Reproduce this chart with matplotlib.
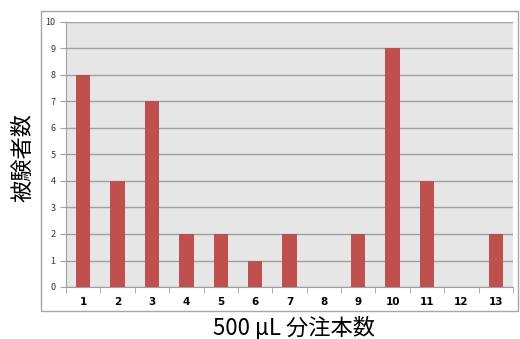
import matplotlib.pyplot as plt
from matplotlib.patches import Rectangle
import numpy as np

plt.rcParams['font.family'] = ['Noto Sans CJK JP', 'DejaVu Sans']

categories = ['1', '2', '3', '4', '5', '6', '7', '8', '9', '10', '11', '12', '13']
counts = [8, 4, 7, 2, 2, 1, 2, 0, 2, 9, 4, 0, 2]

W, H = 520, 339
fig = plt.figure(figsize=(W / 100, H / 100), dpi=100)

# outer chart frame
fig.patches.append(Rectangle((41 / W, 1 - 311 / H), 477 / W, 300 / H,
                             transform=fig.transFigure, fill=False,
                             edgecolor='#A6A6A6', linewidth=1.0))

ax = fig.add_axes([66 / W, 1 - 287 / H, 447 / W, 265 / H])
ax.set_facecolor('#E6E6E6')

x = np.arange(len(categories))
ax.bar(x, counts, width=0.42, color='#C0504D', zorder=3)

ax.set_xlim(-0.5, len(categories) - 0.5)
ax.set_ylim(0, 10)
ax.set_yticks(range(0, 11))
ax.yaxis.grid(True, color='#A0A0A0', linewidth=1.0, zorder=0)

ax.set_xticks(x)
ax.set_xticklabels(categories, fontweight='bold', fontsize=7.5, family='DejaVu Sans')
ax.set_xticks(np.arange(-0.5, len(categories)), minor=True)
ax.tick_params(axis='x', which='major', length=0, pad=7)
ax.tick_params(axis='x', which='minor', length=4, color='#A0A0A0')
ax.tick_params(axis='y', labelsize=6.5, length=4, color='#A0A0A0', labelcolor='#333333')

for s in ['top', 'right']:
    ax.spines[s].set_visible(False)
ax.spines['left'].set_color('#A0A0A0')
ax.spines['bottom'].set_color('#A0A0A0')

fig.text(23 / W, 1 - 157 / H, '被験者数', rotation=90, ha='center', va='center', fontsize=16)
fig.text(294 / W, 1 - 328 / H, '500 μL 分注本数', ha='center', va='center', fontsize=16)

fig.savefig('out.png', dpi=100)
